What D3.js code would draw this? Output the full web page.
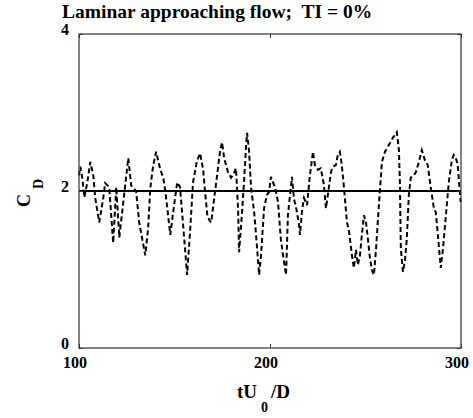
<!DOCTYPE html>
<html>
<head>
<meta charset="utf-8">
<script src="https://cdn.jsdelivr.net/npm/d3@7"></script>
<style>
  body { margin: 0; background: #fff; }
  svg text { font-family: "Liberation Serif", "Times New Roman", "DejaVu Serif", serif; font-weight: bold; fill: #000; white-space: pre; }
</style>
</head>
<body>
<div id="chart"></div>
<script>
// time tU0/D and drag coefficient
const tVals = [100.0, 100.7, 101.7, 102.8, 104.3, 105.9, 107.5, 108.5, 110.6, 112.7, 113.7, 115.8, 117.9, 119.5, 121.1,
  123.2, 125.8, 127.3, 129.9, 131.5, 134.7, 136.2, 137.3, 138.8, 140.4, 142.6, 144.1, 145.2, 147.8, 149.3,
  151.4, 152.9, 154.5, 156.6, 158.2, 159.7, 161.8, 163.4, 165.0, 166.0, 167.2, 168.2, 169.2, 170.7, 172.3,
  173.9, 174.9, 176.0, 178.0, 179.6, 180.6, 182.2, 183.3, 183.8, 184.9, 186.4, 187.5, 188.0, 189.0, 190.1,
  191.7, 192.7, 194.3, 195.3, 196.9, 198.4, 199.5, 200.5, 201.6, 202.6, 204.2, 205.7, 207.3, 208.4, 209.4,
  210.5, 211.5, 212.6, 213.6, 215.2, 215.7, 216.8, 217.8, 219.4, 220.9, 222.5, 223.5, 225.1, 226.6, 228.2,
  229.3, 230.3, 231.9, 232.9, 234.5, 235.5, 236.6, 237.6, 238.7, 240.3, 241.3, 242.9, 243.9, 245.0, 246.0,
  247.1, 248.1, 249.2, 250.2, 251.3, 252.3, 253.4, 254.4, 255.5, 257.0, 258.6, 260.2, 262.3, 264.4, 266.4,
  267.5, 268.0, 268.5, 269.6, 270.6, 271.6, 272.7, 273.7, 275.3, 276.4, 277.9, 279.5, 281.1, 282.6, 284.2,
  285.8, 286.8, 287.9, 289.4, 290.5, 292.1, 293.6, 295.2, 296.2, 297.3, 298.3, 299.8];
const cdVals = [2.20, 2.31, 2.17, 1.92, 2.10, 2.37, 2.20, 1.91, 1.60, 1.91, 2.10, 2.05, 1.34, 2.05, 1.41,
  1.86, 2.42, 2.07, 2.00, 1.60, 1.18, 1.53, 2.03, 2.32, 2.50, 2.27, 2.17, 2.00, 1.44, 1.73,
  2.11, 2.05, 1.57, 0.93, 1.50, 2.11, 2.39, 2.48, 2.27, 1.99, 1.69, 1.63, 1.60, 1.89, 2.20,
  2.52, 2.62, 2.42, 2.24, 2.17, 2.20, 2.29, 1.76, 1.22, 1.57, 2.11, 2.59, 2.74, 2.52, 2.04,
  1.73, 1.44, 0.93, 1.18, 1.78, 1.95, 1.99, 2.18, 2.11, 2.05, 1.86, 1.38, 1.10, 0.93, 1.70,
  1.95, 2.18, 1.89, 1.80, 1.57, 1.44, 1.76, 1.91, 1.82, 2.20, 2.50, 2.33, 2.27, 2.29, 2.08,
  1.78, 1.95, 2.24, 2.31, 2.33, 2.46, 2.50, 2.33, 2.05, 1.60, 1.50, 1.18, 1.02, 1.25, 1.06,
  1.18, 1.44, 1.69, 1.61, 1.38, 1.15, 0.99, 0.93, 1.25, 1.82, 2.37, 2.50, 2.59, 2.68, 2.75,
  2.52, 2.11, 1.27, 0.97, 1.10, 1.38, 1.95, 2.17, 2.20, 2.24, 2.37, 2.52, 2.39, 2.33, 2.04,
  1.78, 1.73, 1.44, 1.02, 1.25, 1.69, 2.11, 2.39, 2.46, 2.42, 2.33, 1.86];
const meanCd = 2.0;
const xTicks = [100, 200, 300];
const yTicks = [0, 2, 4];

const W = 473, H = 418;
const margin = { top: 34, right: 12, bottom: 70, left: 79 };
const width = W - margin.left - margin.right;
const height = H - margin.top - margin.bottom;
const serif = "'Liberation Serif', 'Times New Roman', 'DejaVu Serif', serif";

const svg = d3.select("#chart").append("svg")
  .attr("width", W)
  .attr("height", H)
  .attr("font-family", serif);

const g = svg.append("g")
  .attr("transform", `translate(${margin.left},${margin.top})`);

const x = d3.scaleLinear().domain([100, 300]).range([0, width]);
const y = d3.scaleLinear().domain([0, 4]).range([height, 0]);

// title
svg.append("text")
  .attr("x", 62)
  .attr("y", 18)
  .attr("font-family", serif)
  .attr("xml:space", "preserve")
  .style("font-size", "19.5px")
  .text("Laminar approaching flow;  TI = 0%");

// mean line
g.append("line")
  .attr("x1", 0).attr("x2", width)
  .attr("y1", y(meanCd)).attr("y2", y(meanCd))
  .attr("stroke", "#000")
  .attr("stroke-width", 2);

// time series
const line = d3.line()
  .x((d, i) => x(tVals[i]))
  .y(d => y(d));

g.append("path")
  .datum(cdVals)
  .attr("fill", "none")
  .attr("stroke", "#000")
  .attr("stroke-width", 2)
  .attr("stroke-dasharray", "5,3")
  .attr("d", line);

// frame
g.append("rect")
  .attr("width", width).attr("height", height)
  .attr("fill", "none")
  .attr("stroke", "#333")
  .attr("stroke-width", 1.2);

// inward ticks
const xAxisB = d3.axisBottom(x).tickValues(xTicks).tickSize(-4).tickFormat("");
const xAxisT = d3.axisTop(x).tickValues(xTicks).tickSize(-4).tickFormat("");
const yAxisL = d3.axisLeft(y).tickValues(yTicks).tickSize(-4).tickFormat("");
const yAxisR = d3.axisRight(y).tickValues(yTicks).tickSize(-4).tickFormat("");
g.append("g").attr("transform", `translate(0,${height})`).call(xAxisB);
g.append("g").call(xAxisT);
g.append("g").call(yAxisL);
g.append("g").attr("transform", `translate(${width},0)`).call(yAxisR);
g.selectAll(".domain").remove();
g.selectAll(".tick line").attr("stroke", "#333");

// tick labels
g.selectAll(".xlab").data(xTicks).enter().append("text")
  .attr("class", "xlab")
  .attr("x", d => x(d) - 4)
  .attr("y", height + 20)
  .attr("text-anchor", "middle")
  .attr("font-family", serif)
  .style("font-size", "16px")
  .text(d => d);

g.selectAll(".ylab").data(yTicks).enter().append("text")
  .attr("class", "ylab")
  .attr("x", -10)
  .attr("y", d => y(d) + 1)
  .attr("text-anchor", "end")
  .attr("font-family", serif)
  .style("font-size", "16px")
  .text(d => d);

// x axis title
const xt = svg.append("text")
  .attr("x", 237)
  .attr("y", 398)
  .attr("font-family", serif)
  .style("font-size", "19px");
xt.append("tspan").text("tU");
xt.append("tspan").attr("dx", 4).attr("dy", 14).style("font-size", "14px").text("0");
xt.append("tspan").attr("dx", 3).attr("dy", -14).text("/D");

// y axis title
const yt = svg.append("text")
  .attr("transform", "translate(30,207) rotate(-90)")
  .attr("font-family", serif)
  .style("font-size", "18px");
yt.append("tspan").text("C");
yt.append("tspan").attr("dx", 5).attr("dy", 13).style("font-size", "14px").text("D");
</script>
</body>
</html>
